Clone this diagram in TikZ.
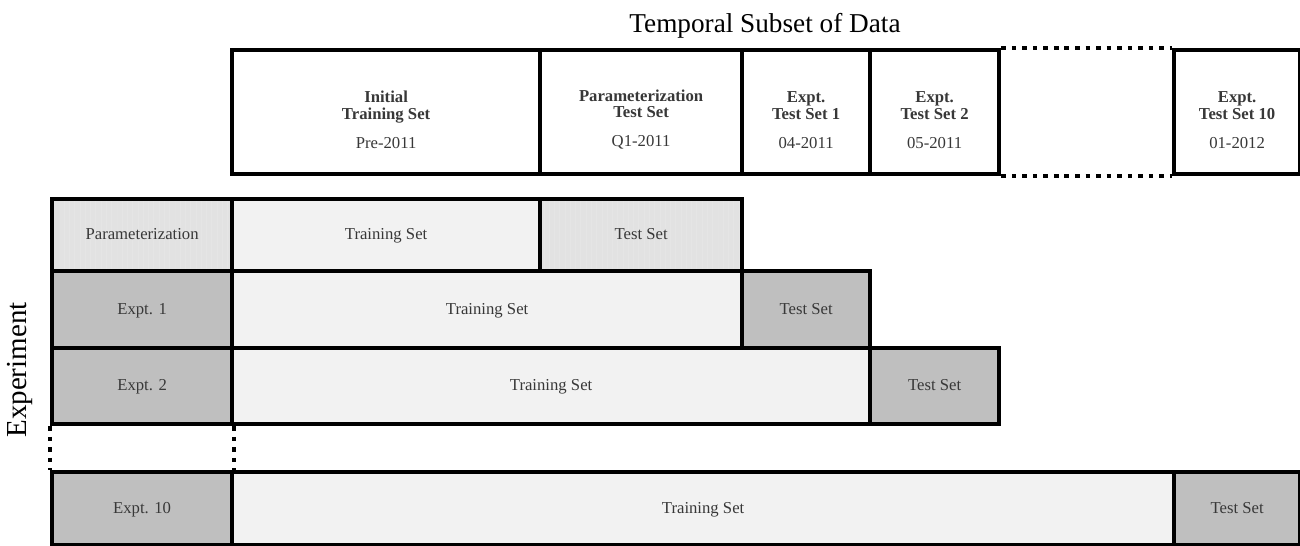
\documentclass[tikz,border=0pt]{standalone}
\usepackage{fontspec}
\setmainfont{Liberation Serif}
\usetikzlibrary{patterns,shadows}

\definecolor{exptgray}{HTML}{BFBFBF}
\definecolor{trainfill}{HTML}{F2F2F2}
\definecolor{paramfill}{HTML}{E2E2E2}

\tikzset{
	cell/.style={draw, line width=2.4pt, anchor=north west, inner sep=0pt, align=center,
		text=black!78, font=\fontsize{9.5}{11}\selectfont, text height=1.6ex, text depth=.4ex,
		drop shadow={shadow xshift=0.8pt, shadow yshift=-0.8pt, opacity=0.25}},
	period/.style={draw, line width=2.4pt, anchor=north west, inner sep=0pt, align=center,
		fill=white, minimum height=2.48cm, text=black!78, font=\fontsize{9.5}{9.5}\selectfont,
		drop shadow={shadow xshift=0.8pt, shadow yshift=-0.8pt, opacity=0.25}},
	expt/.style={cell, fill=exptgray},
	train/.style={cell, fill=trainfill},
	param/.style={cell, preaction={fill=paramfill}, pattern=vertical lines, pattern color=black!10},
	dots/.style={line width=2.4pt, dash pattern=on 2.6pt off 3.4pt}
}
\newcommand{\toppad}{\rule{0pt}{15pt}}

\begin{document}
\begin{tikzpicture}
	\useasboundingbox (0,0) rectangle (26,-10.9);

	\node [font=\fontsize{15.5}{17}\selectfont] (title) at (15.3,-0.52) {Temporal Subset of Data};
	\node [rotate=90, font=\fontsize{16.5}{18}\selectfont] (explabel) at (0.4,-7.4) {Experiment};

	% periods of the data
	\node [period, minimum width=6.16cm] (init) at (4.6,-0.96) {\toppad\textbf{Initial}\\\textbf{Training Set}\\[7pt]Pre-2011};
	\node [period, minimum width=4.04cm] (ptest) at (10.76,-0.96) {\toppad\textbf{Parameterization}\\\textbf{Test Set}\\[7pt]Q1-2011};
	\node [period, minimum width=2.56cm] (set1) at (14.8,-0.96) {\toppad\textbf{Expt.}\\\textbf{Test Set 1}\\[7pt]04-2011};
	\node [period, minimum width=2.58cm] (set2) at (17.36,-0.96) {\toppad\textbf{Expt.}\\\textbf{Test Set 2}\\[7pt]05-2011};
	\node [period, minimum width=2.52cm] (set10) at (23.44,-0.96) {\toppad\textbf{Expt.}\\\textbf{Test Set 10}\\[7pt]01-2012};
	\draw [dots] (set2.north east) -- (set10.north west);
	\draw [dots] (set2.south east) -- (set10.south west);

	% parameterization run
	\node [param, minimum width=3.6cm, minimum height=1.44cm] (p) at (1,-3.94) {Parameterization};
	\node [train, minimum width=6.16cm, minimum height=1.44cm] (ptrain) at (4.6,-3.94) {Training Set};
	\node [param, minimum width=4.04cm, minimum height=1.44cm] (ptestrow) at (10.76,-3.94) {Test Set};

	% experiments
	\node [expt, minimum width=3.6cm, minimum height=1.54cm] (e1) at (1,-5.38) {Expt. 1};
	\node [train, minimum width=10.2cm, minimum height=1.54cm] (e1train) at (4.6,-5.38) {Training Set};
	\node [expt, minimum width=2.56cm, minimum height=1.54cm] (e1test) at (14.8,-5.38) {Test Set};

	\node [expt, minimum width=3.6cm, minimum height=1.52cm] (e2) at (1,-6.92) {Expt. 2};
	\node [train, minimum width=12.76cm, minimum height=1.52cm] (e2train) at (4.6,-6.92) {Training Set};
	\node [expt, minimum width=2.58cm, minimum height=1.52cm] (e2test) at (17.36,-6.92) {Test Set};

	\node [expt, minimum width=3.6cm, minimum height=1.46cm] (e10) at (1,-9.4) {Expt. 10};
	\node [train, minimum width=18.84cm, minimum height=1.46cm] (e10train) at (4.6,-9.4) {Training Set};
	\node [expt, minimum width=2.52cm, minimum height=1.46cm] (e10test) at (23.44,-9.4) {Test Set};

	\draw [dots] (e2.south west) -- (e10.north west);
	\draw [dots] (e2.south east) -- (e10.north east);
\end{tikzpicture}
\end{document}
